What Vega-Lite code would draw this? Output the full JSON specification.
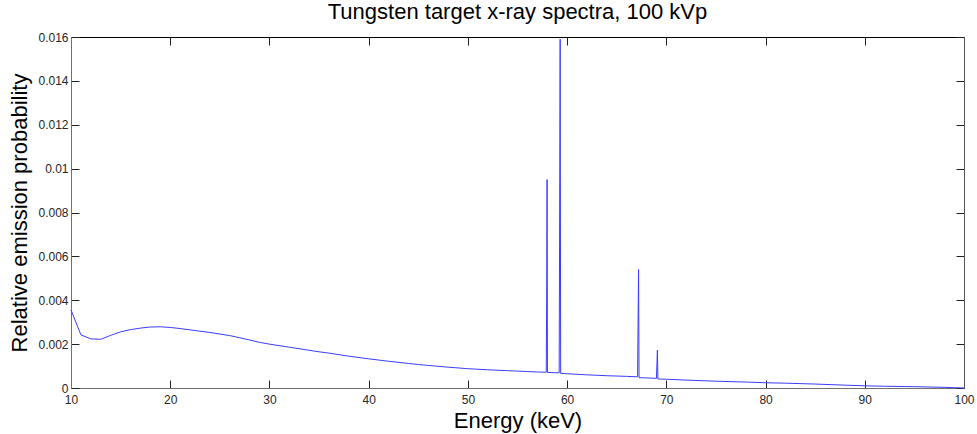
{
  "$schema": "https://vega.github.io/schema/vega-lite/v6.json",
  "autosize": "none",
  "width": 893,
  "height": 351,
  "padding": {"left": 71, "top": 37, "right": 13, "bottom": 46},
  "background": "white",
  "title": {"text": "Tungsten target x-ray spectra, 100 kVp", "font": "Liberation Sans", "fontSize": 22, "fontWeight": "normal", "color": "#000", "offset": 7, "anchor": "middle"},
  "config": {"view": {"stroke": null}},
  "data": {"values": [
    {"e": 10, "p": 0.00356}, {"e": 11, "p": 0.00242}, {"e": 12, "p": 0.00224}, {"e": 13, "p": 0.00222},
    {"e": 14, "p": 0.00240}, {"e": 15, "p": 0.00256}, {"e": 16, "p": 0.00266}, {"e": 17, "p": 0.00273},
    {"e": 18, "p": 0.00278}, {"e": 19, "p": 0.00279}, {"e": 20, "p": 0.00276}, {"e": 21, "p": 0.00271},
    {"e": 22, "p": 0.00265}, {"e": 23, "p": 0.00259}, {"e": 24, "p": 0.00253}, {"e": 25, "p": 0.00246},
    {"e": 26, "p": 0.00239}, {"e": 27, "p": 0.00229}, {"e": 28, "p": 0.00219}, {"e": 29, "p": 0.00208},
    {"e": 30, "p": 0.00200}, {"e": 32, "p": 0.00186}, {"e": 34, "p": 0.00172}, {"e": 35, "p": 0.00165},
    {"e": 36, "p": 0.00159}, {"e": 38, "p": 0.00145}, {"e": 40, "p": 0.00133}, {"e": 42, "p": 0.00122},
    {"e": 44, "p": 0.00112}, {"e": 45, "p": 0.00107}, {"e": 46, "p": 0.00103}, {"e": 48, "p": 0.00095},
    {"e": 50, "p": 0.00088}, {"e": 52, "p": 0.00083}, {"e": 54, "p": 0.00079}, {"e": 55, "p": 0.00077},
    {"e": 56, "p": 0.00075}, {"e": 57, "p": 0.00073}, {"e": 57.9, "p": 0.00072},
    {"e": 57.95, "p": 0.0051}, {"e": 57.98, "p": 0.0095}, {"e": 58.02, "p": 0.00071},
    {"e": 59.2, "p": 0.00069}, {"e": 59.25, "p": 0.0082}, {"e": 59.3, "p": 0.0159}, {"e": 59.35, "p": 0.00067},
    {"e": 60, "p": 0.00065}, {"e": 62, "p": 0.0006}, {"e": 64, "p": 0.00056}, {"e": 66, "p": 0.00053},
    {"e": 67.1, "p": 0.00051}, {"e": 67.15, "p": 0.0029}, {"e": 67.2, "p": 0.0054}, {"e": 67.25, "p": 0.00047},
    {"e": 68, "p": 0.00046}, {"e": 69, "p": 0.00044}, {"e": 69.05, "p": 0.00105}, {"e": 69.1, "p": 0.00173},
    {"e": 69.15, "p": 0.00041}, {"e": 70, "p": 0.0004}, {"e": 72, "p": 0.00036}, {"e": 75, "p": 0.00031},
    {"e": 78, "p": 0.00027}, {"e": 80, "p": 0.00024}, {"e": 82, "p": 0.00022}, {"e": 85, "p": 0.00018},
    {"e": 88, "p": 0.00013}, {"e": 90, "p": 0.0001}, {"e": 92, "p": 0.00008}, {"e": 95, "p": 0.00006},
    {"e": 98, "p": 0.00003}, {"e": 100, "p": 0}
  ]},
  "resolve": {"axis": {"x": "independent", "y": "independent"}},
  "layer": [
    {
      "mark": {"type": "line", "color": "#3c3cff", "strokeWidth": 1, "interpolate": "linear"},
      "encoding": {
        "x": {"field": "e", "type": "quantitative",
          "scale": {"domain": [10, 100], "nice": false, "zero": false},
          "axis": {"orient": "bottom", "title": "Energy (keV)", "values": [10,20,30,40,50,60,70,80,90,100],
            "grid": false, "tickSize": -8, "labelPadding": 14, "tickColor": "#222", "domainColor": "#707070",
            "labelFont": "Liberation Sans", "labelFontSize": 12, "labelColor": "#262626", "labelFlush": false,
            "titleFont": "Liberation Sans", "titleFontSize": 22, "titleFontWeight": "normal", "titleColor": "#000", "titlePadding": 5}},
        "y": {"field": "p", "type": "quantitative",
          "scale": {"domain": [0, 0.016], "nice": false},
          "axis": {"orient": "left", "title": "Relative emission probability", "values": [0,0.002,0.004,0.006,0.008,0.01,0.012,0.014,0.016],
            "labelExpr": "format(datum.value, '.3~f')",
            "grid": false, "tickSize": -8, "labelPadding": 11, "tickColor": "#222", "domainColor": "#707070",
            "labelFont": "Liberation Sans", "labelFontSize": 12, "labelColor": "#262626", "labelFlush": false,
            "titleFont": "Liberation Sans", "titleFontSize": 22, "titleFontWeight": "normal", "titleColor": "#000", "titlePadding": 6}}
      }
    },
    {
      "mark": {"type": "line", "opacity": 0},
      "encoding": {
        "x": {"field": "e", "type": "quantitative",
          "axis": {"orient": "top", "title": null, "labels": false, "values": [10,20,30,40,50,60,70,80,90,100],
            "grid": false, "tickSize": -8, "tickColor": "#222", "domainColor": "#000"}},
        "y": {"field": "p", "type": "quantitative",
          "axis": {"orient": "right", "title": null, "labels": false, "values": [0,0.002,0.004,0.006,0.008,0.01,0.012,0.014,0.016],
            "grid": false, "tickSize": -8, "tickColor": "#222", "domainColor": "#555"}}
      }
    }
  ]
}
